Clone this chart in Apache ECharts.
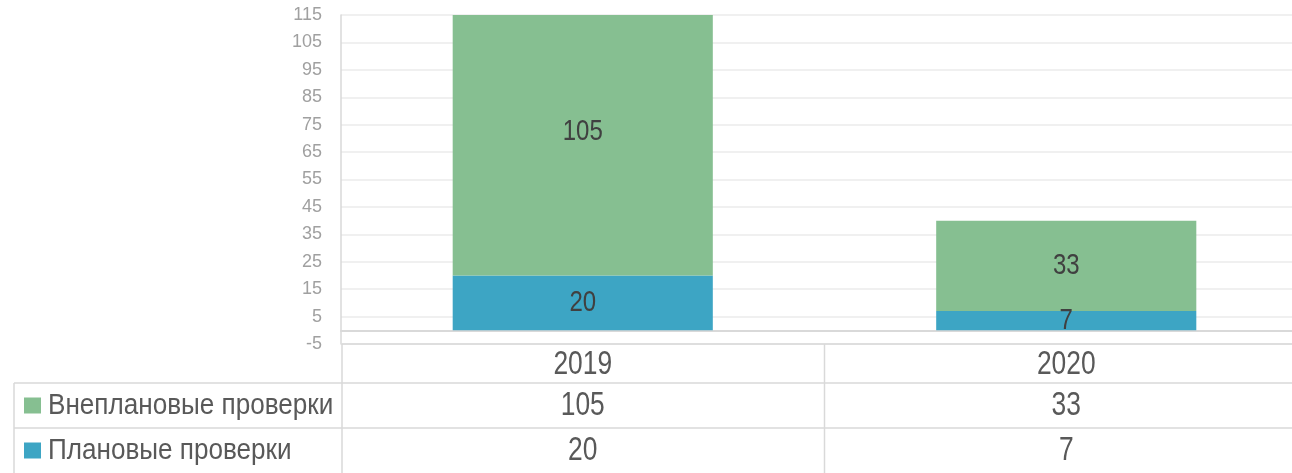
<!DOCTYPE html>
<html><head><meta charset="utf-8">
<script src="https://cdn.jsdelivr.net/npm/echarts@6/dist/echarts.min.js"></script>
<style>html,body{margin:0;padding:0;background:#fff;overflow:hidden}#c{width:1292px;height:473px}</style>
</head><body><div id="c"></div>
<script>
// ---- data ----
const categories = ['2019', '2020'];
const seriesNames = ['Внеплановые проверки', 'Плановые проверки'];
const unplanned = [105, 33];   // Внеплановые проверки
const planned = [20, 7];       // Плановые проверки
const yMin = -5, yMax = 115, yStep = 10;

// ---- style ----
const FONT = "'Liberation Sans', Arial, sans-serif";
const NARROW = 0.8;   // horizontal squeeze to mimic a narrow typeface
const GREEN = '#86BF91', BLUE = '#3DA5C4';
const LINE = '#D9D9D9';
const GRID = { left: 341, top: 15, width: 967, height: 329 };

const chart = echarts.init(document.getElementById('c'), null, { renderer: 'canvas' });

// value labels at the middle of each stacked segment
const labelData = (vals, base) => vals.map((v, i) => [i, (base ? base[i] : 0) + v / 2, v]);
const labelSeries = data => ({
  type: 'custom', data, z: 5, clip: false,
  renderItem: (params, api) => {
    const p = api.coord([api.value(0), api.value(1)]);
    return { type: 'text', x: p[0], y: p[1], scaleX: NARROW,
      style: { text: String(api.value(2)), fill: '#404040', font: '30px ' + FONT,
        align: 'center', verticalAlign: 'middle' } };
  }
});

chart.setOption({
  animation: false,
  backgroundColor: '#fff',
  grid: Object.assign({ containLabel: false, outerBoundsMode: 'none' }, GRID),
  xAxis: {
    type: 'category', data: categories,
    axisLine: { show: true, onZero: true, lineStyle: { color: LINE, width: 2 } },
    axisTick: { show: false }, axisLabel: { show: false }, splitLine: { show: false }
  },
  yAxis: {
    type: 'value', min: yMin, max: yMax, interval: yStep,
    axisLine: { show: true, lineStyle: { color: LINE, width: 1.5 } },
    axisTick: { show: false },
    splitLine: { show: true, lineStyle: { color: '#F0F0F0', width: 2 } },
    axisLabel: { color: '#A0A0A0', fontSize: 18, fontFamily: FONT, margin: 19 }
  },
  series: [
    { name: seriesNames[1], type: 'bar', stack: 'a', data: planned, barWidth: '53.8%',
      itemStyle: { color: BLUE }, clip: true },
    { name: seriesNames[0], type: 'bar', stack: 'a', data: unplanned, barWidth: '53.8%',
      itemStyle: { color: GREEN }, clip: true },
    labelSeries(labelData(planned)),
    labelSeries(labelData(unplanned, planned))
  ]
});

// ---- data table below the plot ----
const W = 1292, H = 473;
const tableTop = GRID.top + GRID.height;
const headerH = 39, rowH = 45, tableLeft = 14;
const centers = categories.map(c => chart.convertToPixel({ xAxisIndex: 0 }, c));
const step = centers[1] - centers[0];
const axisX = centers[0] - step / 2;
const bounds = [];
for (let i = 0; i < centers.length - 1; i++) bounds.push((centers[i] + centers[i + 1]) / 2);

const g = [];
const line = (x1, y1, x2, y2) => g.push({ type: 'line', shape: { x1, y1, x2, y2 },
  style: { stroke: LINE, lineWidth: 1.5 }, silent: true, z: 10 });
const txt = (x, y, s, align, size, sx) => g.push({ type: 'text', x, y, scaleX: sx || NARROW,
  style: { text: s, fill: '#595959', font: size + 'px ' + FONT, align, verticalAlign: 'middle' }, z: 11 });

line(axisX + 1, tableTop, axisX + 1, H);
line(axisX + 1, tableTop, W, tableTop);
line(tableLeft, tableTop + headerH, W, tableTop + headerH);
line(tableLeft, tableTop + headerH + rowH, W, tableTop + headerH + rowH);
line(tableLeft, tableTop + headerH, tableLeft, H);
bounds.forEach(b => line(b, tableTop, b, H));

categories.forEach((c, i) => txt(centers[i], tableTop + headerH / 2 + 1, c, 'center', 33));
const rows = [[seriesNames[0], unplanned, GREEN], [seriesNames[1], planned, BLUE]];
rows.forEach((r, k) => {
  const cy = tableTop + headerH + rowH * k + rowH / 2;
  g.push({ type: 'rect', shape: { x: tableLeft + 10, y: cy - 8, width: 17, height: 16 },
    style: { fill: r[2] }, z: 11 });
  txt(tableLeft + 34, cy, r[0], 'left', 30, 0.87);
  r[1].forEach((v, i) => txt(centers[i], cy, String(v), 'center', 33));
});
chart.setOption({ graphic: { elements: g } });
</script>
</body></html>
